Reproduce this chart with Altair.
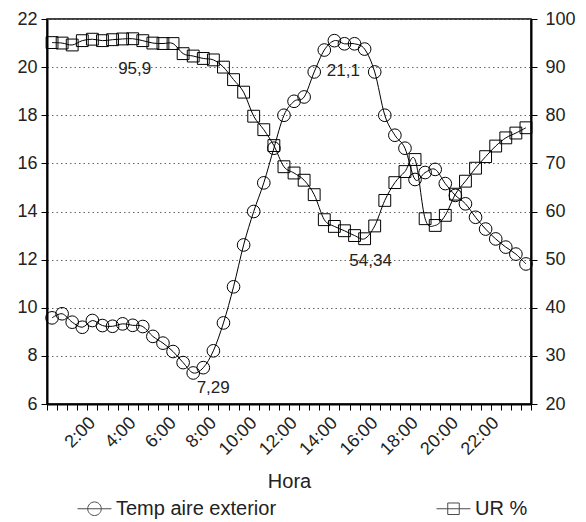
import altair as alt
import pandas as pd

hora = ["0:00", "0:30", "1:00", "1:30", "2:00", "2:30", "3:00", "3:30", "4:00", "4:30",
        "5:00", "5:30", "6:00", "6:30", "7:00", "7:30", "8:00", "8:30", "9:00", "9:30",
        "10:00", "10:30", "11:00", "11:30", "12:00", "12:30", "13:00", "13:30", "14:00", "14:30",
        "15:00", "15:30", "16:00", "16:30", "17:00", "17:30", "18:00", "18:30", "19:00", "19:30",
        "20:00", "20:30", "21:00", "21:30", "22:00", "22:30", "23:00", "23:30"]

temp = [9.58, 9.75, 9.40, 9.19, 9.47, 9.26, 9.23, 9.33, 9.27, 9.22,
        8.81, 8.53, 8.18, 7.72, 7.29, 7.51, 8.21, 9.37, 10.87, 12.61,
        14.00, 15.19, 16.63, 18.00, 18.58, 18.76, 19.80, 20.71, 21.10, 20.97,
        20.97, 20.75, 19.80, 18.00, 17.17, 16.63, 15.33, 15.62, 15.75, 15.16,
        14.67, 14.32, 13.76, 13.27, 12.86, 12.52, 12.23, 11.82]

ur = [95.1, 95.0, 94.6, 95.5, 95.8, 95.5, 95.7, 95.85, 95.9, 95.5,
      95.0, 94.9, 94.9, 92.8, 92.3, 91.8, 91.5, 90.0, 87.4, 84.8,
      79.8, 77.0, 73.7, 69.3, 68.0, 66.5, 63.5, 58.3, 56.9, 56.0,
      55.0, 54.34, 57.0, 62.3, 66.0, 68.3, 70.8, 58.5, 57.1, 59.2,
      63.6, 66.3, 69.0, 71.4, 73.6, 75.3, 76.3, 77.4]

x_labels = ["2:00", "4:00", "6:00", "8:00", "10:00", "12:00",
            "14:00", "16:00", "18:00", "20:00", "22:00"]
left_ticks = [6, 8, 10, 12, 14, 16, 18, 20, 22]
right_ticks = [20, 30, 40, 50, 60, 70, 80, 90, 100]
series = ["Temp aire exterior", "UR %"]

FONT = "Liberation Sans"

df = pd.DataFrame({"hora": hora, "temp": temp, "ur": ur})

i_tmin = temp.index(min(temp))
i_tmax = temp.index(max(temp))
i_umin = ur.index(min(ur))
i_umax = ur.index(max(ur))


def fmt(v):
    return ("%g" % v).replace(".", ",")


lbl_expr = "indexof([" + ",".join("'%s'" % s for s in x_labels) + "], datum.value) >= 0 ? datum.value : ''"

x_enc = alt.X(
    "hora:N", sort=hora, bandPosition=0.5,
    scale=alt.Scale(type="band", paddingInner=0, paddingOuter=0),
    axis=alt.Axis(
        title="Hora", tickBand="extent", labelExpr=lbl_expr, labelOverlap=False,
        labelAngle=-45, labelAlign="right", labelBaseline="middle",
        labelPadding=10, tickSize=6, tickColor="black", tickWidth=1,
        domainColor="black", domainWidth=2, labelFont=FONT, labelFontSize=18,
        labelColor="#222", titleFont=FONT, titleFontSize=20, titleFontWeight="normal",
        titleColor="#222", titlePadding=13, grid=False,
    ),
)

y_temp = alt.Y(
    "temp:Q",
    scale=alt.Scale(domain=[6, 22], nice=False, zero=False),
    axis=alt.Axis(
        title=None, values=left_ticks, grid=True, gridDash=[1.5, 3], gridColor="#666",
        gridWidth=1, tickSize=6, tickColor="black", domainColor="black", domainWidth=2,
        labelFont=FONT, labelFontSize=18, labelColor="#222", labelPadding=4,
    ),
)

y_ur = alt.Y(
    "ur:Q",
    scale=alt.Scale(domain=[20, 100], nice=False, zero=False),
    axis=alt.Axis(
        title=None, orient="right", values=right_ticks, grid=False, tickSize=6,
        tickColor="black", domainColor="black", domainWidth=2,
        labelFont=FONT, labelFontSize=18, labelColor="#222", labelPadding=8,
    ),
)

base = alt.Chart(df)

temp_line = base.mark_line(color="black", strokeWidth=1, interpolate="cardinal").encode(x=x_enc, y=y_temp)
temp_pts = base.mark_point(shape="circle", filled=False, color="black", size=160, strokeWidth=1, opacity=1).encode(x=x_enc, y=y_temp)

lab_rows = [
    # series field, values, index, dx, dy
    ("temp", temp, i_tmin, 20, 15),
    ("temp", temp, i_tmax, 9, 30),
    ("ur", ur, i_umin, 6, 22),
    ("ur", ur, i_umax, 2, 30),
]


def label_layer(col, frame, idx, dx, dy, y_enc):
    d = pd.DataFrame({"hora": [hora[idx]], col: [frame[idx]], "txt": [fmt(frame[idx])]})
    return alt.Chart(d).mark_text(
        font=FONT, fontSize=17, color="#222", baseline="middle", align="center",
        dx=dx, dy=dy,
    ).encode(x=x_enc, y=y_enc, text="txt:N")


t_labs = [label_layer(*r, y_temp) for r in lab_rows[:2]]
u_labs = [label_layer(*r, y_ur) for r in lab_rows[2:]]

temp_layer = alt.layer(temp_line, temp_pts, *t_labs)

ur_line = base.mark_line(color="black", strokeWidth=1, interpolate="cardinal").encode(x=x_enc, y=y_ur)
ur_pts = base.mark_point(shape="square", filled=False, color="black", size=140, strokeWidth=1, opacity=1).encode(x=x_enc, y=y_ur)
ur_layer = alt.layer(ur_line, ur_pts, *u_labs)

circ_path = "M-1,0L1,0M-0.4,0A0.4,0.4,0,1,0,0.4,0A0.4,0.4,0,1,0,-0.4,0"
sq_path = "M-1,0L1,0M-0.34,-0.34L0.34,-0.34L0.34,0.34L-0.34,0.34Z"

leg_df = pd.DataFrame({"serie": series})
legend_layer = alt.Chart(leg_df).mark_point(filled=False, color="black", clip=True, strokeWidth=1).encode(
    x=alt.value(-200), y=alt.value(-200),
    shape=alt.Shape(
        "serie:N", sort=series,
        scale=alt.Scale(domain=series, range=[circ_path, sq_path]),
        legend=alt.Legend(
            title=None, orient="none", direction="horizontal", legendX=30, legendY=472,
            labelFont=FONT, labelFontSize=20, labelColor="#222", symbolSize=1150,
            symbolStrokeWidth=1, symbolStrokeColor="black", symbolFillColor="transparent",
            columnPadding=157, labelOffset=4, labelLimit=400,
        ),
    ),
)

chart = alt.layer(temp_layer, ur_layer, legend_layer).resolve_scale(y="independent").properties(
    width=484, height=385,
    autosize=alt.AutoSizeParams(type="none"),
    padding={"left": 39, "top": 11, "right": 47, "bottom": 115},
    background="white",
).configure_view(stroke="black", strokeWidth=1.5)

chart.save("out.html", embed_options={"renderer": "svg", "actions": False})
